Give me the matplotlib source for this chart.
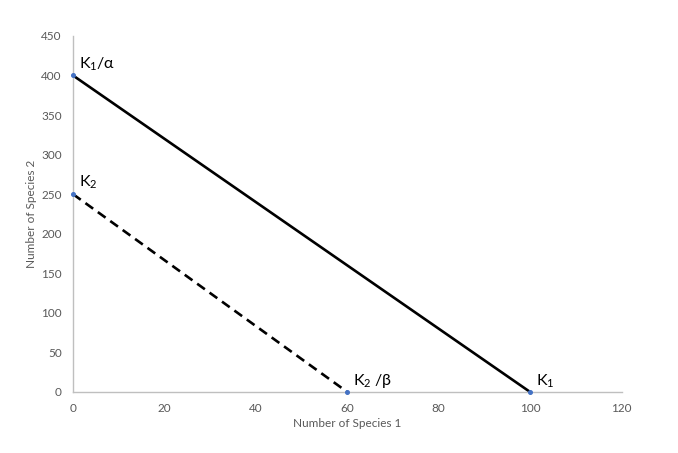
import matplotlib
matplotlib.use("Agg")
import matplotlib.pyplot as plt

plt.rcParams['font.family'] = ['Lato', 'DejaVu Sans']
plt.rcParams['mathtext.fontset'] = 'custom'
plt.rcParams['mathtext.rm'] = 'Lato'
plt.rcParams['mathtext.it'] = 'Lato'

# species 1 isocline
sp1_x = [0, 100]
sp1_y = [400, 0]
# species 2 isocline
sp2_x = [0, 60]
sp2_y = [250, 0]

x_ticks = [0, 20, 40, 60, 80, 100, 120]
y_ticks = [0, 50, 100, 150, 200, 250, 300, 350, 400, 450]

fig = plt.figure(figsize=(6.78, 4.53), dpi=100)
ax = fig.add_axes([0.1077, 0.1347, 0.809, 0.786])

ax.plot(sp1_x, sp1_y, color='black', lw=1.9, solid_capstyle='butt', zorder=2)
ax.plot(sp2_x, sp2_y, color='black', lw=1.9, linestyle=(0, (3.6, 2.2)), zorder=2)
ax.plot(sp1_x + sp2_x, sp1_y + sp2_y, 'o', color='#4472C4', ms=2.6, ls='none',
        zorder=3, clip_on=False)

lab_kw = dict(fontsize=11.5, color='black')
ax.text(1.2, 403, r'K$_1$/α', ha='left', va='bottom', **lab_kw)
ax.text(1.2, 254, r'K$_2$', ha='left', va='bottom', **lab_kw)
ax.text(61.2, 3, r'K$_2$ /β', ha='left', va='bottom', **lab_kw)
ax.text(101.2, 3, r'K$_1$', ha='left', va='bottom', **lab_kw)

ax.set_xlim(0, 120)
ax.set_ylim(0, 450)
ax.set_xticks(x_ticks)
ax.set_yticks(y_ticks)
ax.tick_params(length=0, labelsize=8.5, labelcolor='#595959', pad=8)
for s in ['top', 'right']:
    ax.spines[s].set_visible(False)
for s in ['left', 'bottom']:
    ax.spines[s].set_color('#BFBFBF')
    ax.spines[s].set_linewidth(1.0)

ax.set_xlabel('Number of Species 1', fontsize=8.5, color='#595959', labelpad=3)
ax.set_ylabel('Number of Species 2', fontsize=8.5, color='#595959', labelpad=3)

fig.savefig('out.png', dpi=100)
